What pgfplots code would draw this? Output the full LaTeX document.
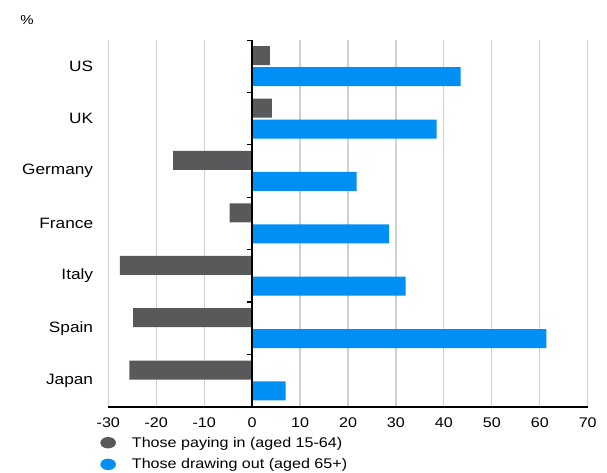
\documentclass[border=0pt]{standalone}
\usepackage{pgfplots}
\pgfplotsset{compat=1.18}
\usepackage{fontspec}
\setmainfont{Liberation Sans}[FakeStretch=1.15]
\definecolor{cgrey}{RGB}{88,89,91}
\definecolor{cblue}{RGB}{0,143,245}
\definecolor{cgrid}{RGB}{208,208,208}
\begin{document}
\begin{tikzpicture}
\begin{axis}[
  at={(0pt,0pt)}, anchor=south west,
  scale only axis, width=479.4pt, height=366.7pt,
  xmin=-30, xmax=70, ymin=-0.5, ymax=6.5,
  y dir=reverse,
  xbar, bar width=0.363,
  xtick={-30,-20,...,70},
  ytick={0,1,2,3,4,5,6},
  yticklabels={US,UK,Germany,France,Italy,Spain,Japan},
  major tick length=0pt,
  xmajorgrids, grid style={cgrid, line width=1.2pt},
  axis lines*=left,
  y axis line style={draw=none},
  x axis line style={-, black, line width=1.6pt},
  /pgf/number format/assume math mode=true,
  xticklabel style={font=\fontsize{14}{16}\selectfont, inner sep=0pt, anchor=north, yshift=-11pt},
  yticklabel style={font=\fontsize{15}{17}\selectfont, inner sep=0pt, anchor=east, xshift=-15pt},
  legend style={draw=none, fill=none, at={(-0.017,0)}, anchor=north west, yshift=-28pt,
    font=\fontsize{14}{16}\selectfont, row sep=6pt, inner sep=0pt,
    /tikz/every odd column/.append style={column sep=14pt}},
  legend cell align=left,
]
\addplot[draw=none, fill=cgrey, bar shift=-0.2,
  legend image code/.code={\fill[cgrey] (7.5pt,0pt) ellipse [x radius=7.8pt, y radius=5.7pt];}]
  coordinates {(3.7,0) (4.1,1) (-16.5,2) (-4.7,3) (-27.6,4) (-24.8,5) (-25.6,6)};
\addlegendentry{Those paying in (aged 15-64)}
\addplot[draw=none, fill=cblue, bar shift=0.2,
  legend image code/.code={\fill[cblue] (7.5pt,0pt) ellipse [x radius=7.8pt, y radius=5.7pt];}]
  coordinates {(43.5,0) (38.5,1) (21.8,2) (28.6,3) (32.0,4) (61.4,5) (7.0,6)};
\addlegendentry{Those drawing out (aged 65+)}
\draw[black, line width=1.6pt] (axis cs:0,-0.5) -- (axis cs:0,6.5);
\draw[black, line width=1.2pt] (axis cs:0,-0.5) -- (axis cs:-1.05,-0.5);
\draw[black, line width=1.2pt] (axis cs:0,0.5) -- (axis cs:-1.05,0.5);
\draw[black, line width=1.2pt] (axis cs:0,1.5) -- (axis cs:-1.05,1.5);
\draw[black, line width=1.2pt] (axis cs:0,2.5) -- (axis cs:-1.05,2.5);
\draw[black, line width=1.2pt] (axis cs:0,3.5) -- (axis cs:-1.05,3.5);
\draw[black, line width=1.2pt] (axis cs:0,4.5) -- (axis cs:-1.05,4.5);
\draw[black, line width=1.2pt] (axis cs:0,5.5) -- (axis cs:-1.05,5.5);
\end{axis}
\node[font=\fontsize{13}{15}\selectfont, inner sep=0pt] at (-81.3pt,386.7pt) {\%};
\path[use as bounding box] (-108.3pt,-65.3pt) rectangle (498.7pt,406.7pt);
\end{tikzpicture}
\end{document}
